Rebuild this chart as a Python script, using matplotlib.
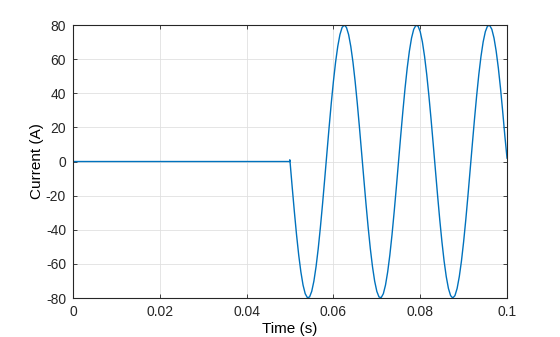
#!/usr/bin/env python3
"""Current vs time: zero until fault onset, then 60 Hz oscillation."""

import numpy as np
import matplotlib
matplotlib.use('Agg')
import matplotlib.pyplot as plt

plt.rcParams['font.family'] = ['Liberation Sans', 'DejaVu Sans']
plt.rcParams['axes.unicode_minus'] = False

# ── data (0.5 ms samples from onset) ────────────────────────────────────────
t_onset = 0.05
t_step = 0.0005
pre_time = [0.0, 0.0499, 0.04995]
pre_current = [0.0, 0.0, 1.0]
current = [
    0.0, -15.0, -29.4, -42.9, -54.8, -64.7, -72.4, -77.5, -79.8, -79.4,
    -76.1, -70.1, -61.6, -51.0, -38.5, -24.7, -10.0, 5.0, 19.9, 34.1,
    47.0, 58.3, 67.5, 74.4, 78.6, 80.0, 78.6, 74.4, 67.5, 58.3,
    47.0, 34.1, 19.9, 5.0, -10.0, -24.7, -38.5, -51.0, -61.6, -70.1,
    -76.1, -79.4, -79.8, -77.5, -72.4, -64.7, -54.8, -42.9, -29.4, -15.0,
    0.0, 15.0, 29.4, 42.9, 54.8, 64.7, 72.4, 77.5, 79.8, 79.4,
    76.1, 70.1, 61.6, 51.0, 38.5, 24.7, 10.0, -5.0, -19.9, -34.1,
    -47.0, -58.3, -67.5, -74.4, -78.6, -80.0, -78.6, -74.4, -67.5, -58.3,
    -47.0, -34.1, -19.9, -5.0, 10.0, 24.7, 38.5, 51.0, 61.6, 70.1,
    76.1, 79.4, 79.8, 77.5, 72.4, 64.7, 54.8, 42.9, 29.4, 15.0,
    2.0,
]
x_ticks = [0, 0.02, 0.04, 0.06, 0.08, 0.1]
x_ticklabels = ['0', '0.02', '0.04', '0.06', '0.08', '0.1']
y_ticks = [-80, -60, -40, -20, 0, 20, 40, 60, 80]

time = t_onset + t_step * np.arange(len(current))
t_all = np.concatenate([pre_time, time])
i_all = np.concatenate([pre_current, current])

fig = plt.figure(figsize=(5.6, 3.37), dpi=100)
ax = fig.add_axes([0.1304, 0.1157, 0.775, 0.810])

ax.plot(t_all, i_all, color='#0072BD', linewidth=1.0)

ax.set_xlim(0, 0.1)
ax.set_ylim(-80, 80)
ax.set_xticks(x_ticks)
ax.set_xticklabels(x_ticklabels)
ax.set_yticks(y_ticks)
ax.set_xlabel("Time (s)", fontsize=11, labelpad=2)
ax.set_ylabel("Current (A)", fontsize=11, labelpad=1)
ax.grid(True, color='#e0e0e0', linewidth=0.6)
ax.set_axisbelow(True)
ax.tick_params(direction='in', length=3, width=0.6, labelsize=10,
               top=True, right=True, colors='#262626', pad=5)
for sp in ax.spines.values():
    sp.set_color('#262626')
    sp.set_linewidth(0.8)

fig.savefig("out.png", dpi=100)
